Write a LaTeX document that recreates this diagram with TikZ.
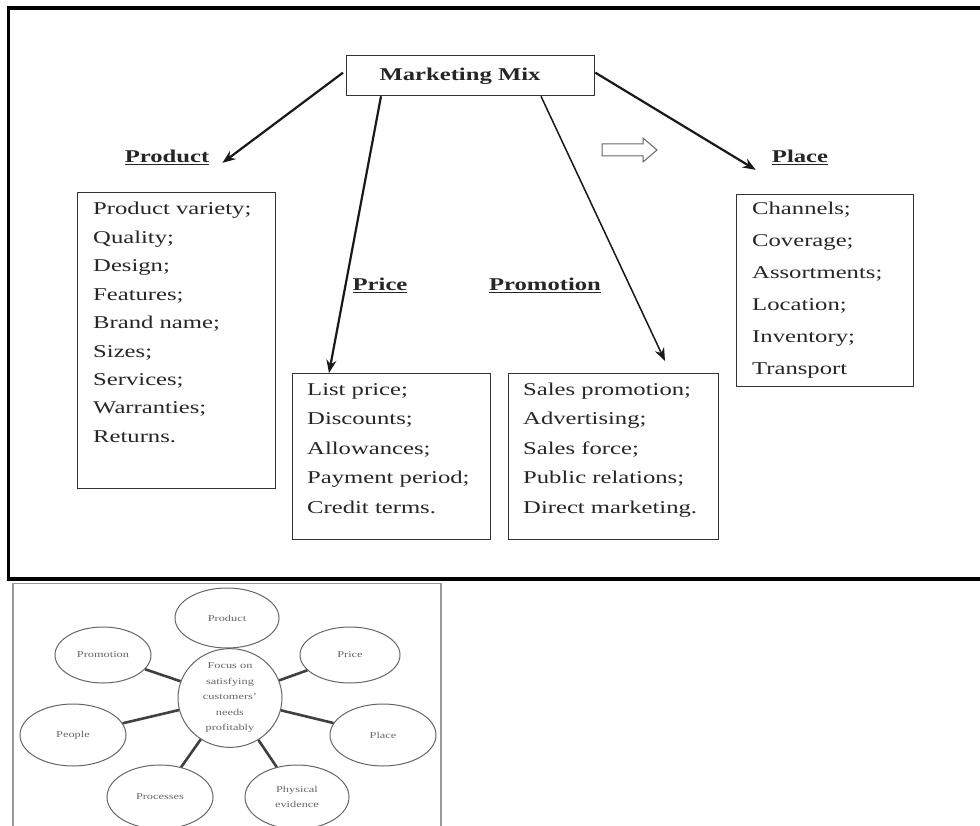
\documentclass[tikz,border=0pt]{standalone}
\usepackage{fontspec}
\setmainfont{Liberation Serif}
\usetikzlibrary{arrows.meta,shapes.geometric,calc}
\newcommand\sx[1]{\scalebox{1.37}[1]{#1}}
\begin{document}
\begin{tikzpicture}[x=1pt,y=-1pt,
 box/.style={draw=black!80,line width=1.3pt,rectangle,anchor=north west,inner sep=0},
 item/.style={anchor=base west,inner sep=0,font=\fontsize{18}{20}\selectfont,text=black!85},
 lab/.style={anchor=base,inner sep=0,font=\bfseries\fontsize{18}{20}\selectfont,text=black!85},
 arr/.style={-{Stealth[length=13pt,width=10pt]},line width=2.2pt,black!90},
 ell/.style={ellipse,draw=black!60,line width=1pt,inner sep=0,align=center,font=\fontsize{9}{15.5}\selectfont,text=black!60},
 spoke/.style={draw=black!75,line width=2.6pt}]
\useasboundingbox (0,0) rectangle (980,826);
\fill[white] (0,0) rectangle (980,826);

% outer frame
\draw[line width=3.2pt,black] (982,8) -- (8.5,8) -- (8.5,579) -- (982,579);

% marketing mix
\node[box,minimum width=248pt,minimum height=40pt] (mm) at (346,55) {};
\node[lab] (mmt) at (460,81) {\sx{Marketing Mix}};

% labels
\node[lab] (prodlab) at (167,163) {\sx{\underline{Product}}};
\node[lab] (pricelab) at (380,291) {\sx{\underline{Price}}};
\node[lab] (promolab) at (545,291) {\sx{\underline{Promotion}}};
\node[lab] (placelab) at (800,163) {\sx{\underline{Place}}};

% boxes
\node[box,minimum width=198pt,minimum height=296pt] (prodbox) at (77,192) {};
\node[box,minimum width=198pt,minimum height=166pt] (pricebox) at (292,373) {};
\node[box,minimum width=210pt,minimum height=166pt] (promobox) at (508,373) {};
\node[box,minimum width=177pt,minimum height=192pt] (placebox) at (736,194) {};

\foreach \t [count=\i] in {Product variety;,Quality;,Design;,Features;,Brand name;,Sizes;,Services;,Warranties;,Returns.}
  \node[item] (pv\i) at (93,{215+28.4*(\i-1)}) {\sx{\t}};
\foreach \t [count=\i] in {List price;,Discounts;,Allowances;,Payment period;,Credit terms.}
  \node[item] (pc\i) at (307,{395+29.5*(\i-1)}) {\sx{\t}};
\foreach \t [count=\i] in {Sales promotion;,Advertising;,Sales force;,Public relations;,Direct marketing.}
  \node[item] (pm\i) at (523,{395+29.5*(\i-1)}) {\sx{\t}};
\foreach \t [count=\i] in {Channels;,Coverage;,Assortments;,Location;,Inventory;,Transport}
  \node[item] (pl\i) at (752,{215+31.8*(\i-1)}) {\sx{\t}};

% arrows
\draw[arr] ($(mm.west)+(-3,-3)$) -- ($(prodlab.east)+(13,5)$);
\draw[arr] ($(mm.south west)+(35,0)$) -- ($(pricebox.north west)+(37,0)$);
\draw[arr,line width=1.5pt] ($(mm.south west)+(195,0)$) -- ($(promobox.north west)+(157,-12)$);
\draw[arr] ($(mm.east)+(0,-3)$) -- ($(placelab.west)+(-16,12)$);

% hollow arrow
\draw[black!60,line width=1pt] (602,144) -- (643,144) -- (643,138) -- (657,150) -- (643,162) -- (643,156) -- (602,156) -- cycle;

% lower panel
\draw[black!40,line width=1.3pt] (13,830) -- (13,583.5) -- (441,583.5) -- (441,830);
\node[ell,minimum width=104pt,minimum height=82pt] (c) at (230,698) {\sx{Focus on}\\\sx{satisfying}\\\sx{customers'}\\\sx{needs}\\\sx{profitably}};
\node[ell,minimum width=104pt,minimum height=60pt] (e1) at (227,618) {\sx{Product}};
\node[ell,minimum width=100pt,minimum height=56pt] (e2) at (350,655) {\sx{Price}};
\node[ell,minimum width=106pt,minimum height=62pt] (e3) at (383,735) {\sx{Place}};
\node[ell,minimum width=104pt,minimum height=64pt] (e4) at (297,797) {\sx{Physical}\\\sx{evidence}};
\node[ell,minimum width=106pt,minimum height=64pt] (e5) at (160,797) {\sx{Processes}};
\node[ell,minimum width=106pt,minimum height=62pt] (e6) at (73,735) {\sx{People}};
\node[ell,minimum width=96pt,minimum height=56pt] (e7) at (103,655) {\sx{Promotion}};
\foreach \e in {e1,e2,e3,e4,e5,e6,e7}
  \draw[spoke] (c) -- (\e);
\end{tikzpicture}
\end{document}
